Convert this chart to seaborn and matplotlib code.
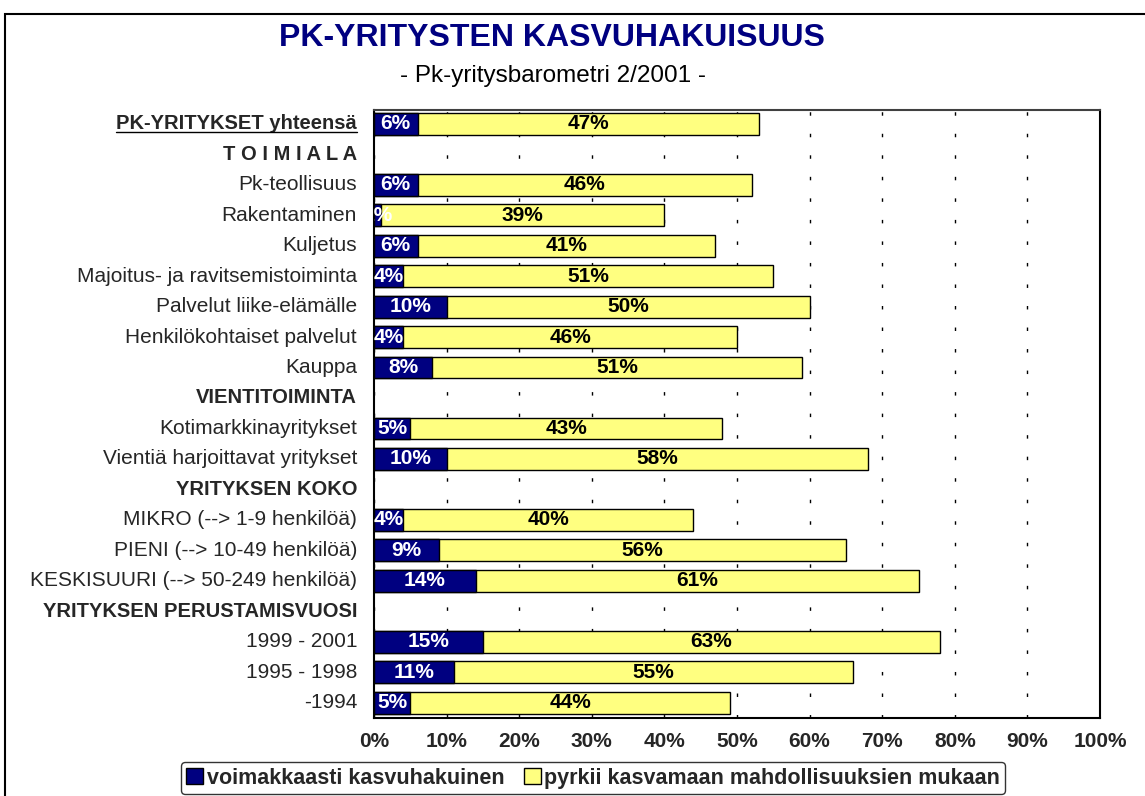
import pandas as pd
import matplotlib.pyplot as plt
import seaborn as sns
from matplotlib.patches import Rectangle
from matplotlib.lines import Line2D
from matplotlib.transforms import blended_transform_factory

sns.set_style('white')
plt.rcParams['font.family'] = ['Liberation Sans', 'DejaVu Sans']

# Rows top to bottom (headers have no values)
rows = ['PK-YRITYKSET yhteensä', 'T O I M I A L A', 'Pk-teollisuus', 'Rakentaminen',
        'Kuljetus', 'Majoitus- ja ravitsemistoiminta', 'Palvelut liike-elämälle',
        'Henkilökohtaiset palvelut', 'Kauppa', 'VIENTITOIMINTA', 'Kotimarkkinayritykset',
        'Vientiä harjoittavat yritykset', 'YRITYKSEN KOKO', 'MIKRO (--> 1-9 henkilöä)',
        'PIENI (--> 10-49 henkilöä)', 'KESKISUURI (--> 50-249 henkilöä)',
        'YRITYKSEN PERUSTAMISVUOSI', '1999 - 2001', '1995 - 1998', '-1994']
headers = ['PK-YRITYKSET yhteensä', 'T O I M I A L A', 'VIENTITOIMINTA',
           'YRITYKSEN KOKO', 'YRITYKSEN PERUSTAMISVUOSI']

categories = ['PK-YRITYKSET yhteensä', 'Pk-teollisuus', 'Rakentaminen', 'Kuljetus',
              'Majoitus- ja ravitsemistoiminta', 'Palvelut liike-elämälle',
              'Henkilökohtaiset palvelut', 'Kauppa', 'Kotimarkkinayritykset',
              'Vientiä harjoittavat yritykset', 'MIKRO (--> 1-9 henkilöä)',
              'PIENI (--> 10-49 henkilöä)', 'KESKISUURI (--> 50-249 henkilöä)',
              '1999 - 2001', '1995 - 1998', '-1994']
strong = [6, 6, 1, 6, 4, 10, 4, 8, 5, 10, 4, 9, 14, 15, 11, 5]
moderate = [47, 46, 39, 41, 51, 50, 46, 51, 43, 58, 40, 56, 61, 63, 55, 44]
xticks = [0, 10, 20, 30, 40, 50, 60, 70, 80, 90, 100]

navy = '#000080'
yellow = '#FFFF80'

df = pd.DataFrame({'category': categories, 'strong': strong, 'moderate': moderate})
df['total'] = df['strong'] + df['moderate']

fig = plt.figure(figsize=(11.45, 7.96), dpi=100)
ax = fig.add_axes([374 / 1145, 1 - 718 / 796, 726 / 1145, 608 / 796])

# stacked bars: total in yellow first, strong part on top in navy
sns.barplot(data=df, y='category', x='total', order=rows, orient='h', color=yellow,
            saturation=1, edgecolor='black', linewidth=1, width=0.72, ax=ax)
sns.barplot(data=df, y='category', x='strong', order=rows, orient='h', color=navy,
            saturation=1, edgecolor='black', linewidth=1, width=0.72, ax=ax)

ax.set_xlim(0, 100)
ax.set_ylim(len(rows) - 0.5, -0.45)
ax.set_xticks(xticks)
ax.set_xticklabels([f'{t}%' for t in xticks], fontsize=15, fontweight='bold')
ax.tick_params(axis='x', length=0, pad=10)
ax.set_xlabel('')
ax.set_ylabel('')
ax.set_yticks([])
ax.set_axisbelow(True)
ax.xaxis.grid(True, color='black', linewidth=1, linestyle=(0, (2.5, 13)))
for s in ['left', 'bottom', 'right']:
    ax.spines[s].set_color('black')
    ax.spines[s].set_linewidth(1.5)
ax.spines['top'].set_color('#404040')
ax.spines['top'].set_linewidth(1.5)

# segment labels
for _, r in df.iterrows():
    y = rows.index(r['category'])
    ax.text(r['strong'] / 2, y, f"{r['strong']}%", ha='center', va='center',
            color='white', fontsize=15, fontweight='bold', clip_on=True)
    ax.text(r['strong'] + r['moderate'] / 2, y, f"{r['moderate']}%", ha='center',
            va='center', color='black', fontsize=15, fontweight='bold')

# row labels
trans = blended_transform_factory(fig.transFigure, ax.transData)
label_objs = {}
for i, name in enumerate(rows):
    bold = name in headers
    t = ax.text(357 / 1145, i, name, transform=trans, ha='right', va='center',
                fontsize=14.5 if bold else 15, fontweight='bold' if bold else 'normal')
    label_objs[name] = t

# titles
fig.text(0.482, 0.952, 'PK-YRITYSTEN KASVUHAKUISUUS', ha='center', va='center',
         fontsize=23, fontweight='bold', color=navy)
fig.text(0.483, 0.905, '- Pk-yritysbarometri 2/2001 -', ha='center', va='center',
         fontsize=17.5, color='black')

# legend
handles = [Rectangle((0, 0), 1, 1, facecolor=navy, edgecolor='black'),
           Rectangle((0, 0), 1, 1, facecolor=yellow, edgecolor='black')]
leg = fig.legend(handles, ['voimakkaasti kasvuhakuinen',
                           'pyrkii kasvamaan mahdollisuuksien mukaan'],
                 loc='center', bbox_to_anchor=(0.518, 0.0226), ncol=2, frameon=True,
                 fancybox=True, prop={'size': 15.5, 'weight': 'bold'},
                 handlelength=0.8, handleheight=0.8, handletextpad=0.15,
                 columnspacing=0.9, borderpad=0.25)
leg.get_frame().set_edgecolor('black')
leg.get_frame().set_linewidth(1)

# outer frame
fig.patches.append(Rectangle((5 / 1145, -0.01), 1.0, 1 - 14 / 796 + 0.01,
                             transform=fig.transFigure, fill=False,
                             edgecolor='black', linewidth=1.5))

# underline the total row label
fig.canvas.draw()
bb = label_objs['PK-YRITYKSET yhteensä'].get_window_extent()
x0, x1 = bb.x0 / fig.bbox.width, bb.x1 / fig.bbox.width
yl = (bb.y0 + 1) / fig.bbox.height
fig.lines.append(Line2D([x0, x1], [yl, yl], transform=fig.transFigure,
                        color='black', linewidth=1))

fig.savefig('out.png', dpi=100)
